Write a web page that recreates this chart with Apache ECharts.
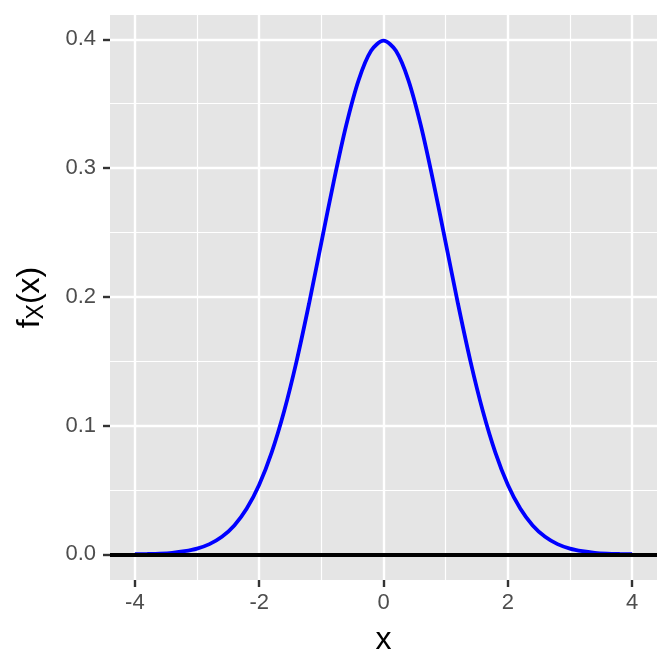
<!DOCTYPE html>
<html lang="en">
<head>
    <meta charset="UTF-8">
    <title>Normal density</title>
    <script src="https://cdn.jsdelivr.net/npm/echarts/dist/echarts.min.js"></script>
    <style>
        html, body { margin: 0; padding: 0; background: #fff; }
    </style>
</head>
<body>
    <div id="chart" style="width: 672px; height: 672px;"></div>
    <script>
        // values
        const xs = [-4.0, -3.8, -3.6, -3.4, -3.2, -3.0, -2.8, -2.6, -2.4, -2.2,
            -2.0, -1.8, -1.6, -1.4, -1.2, -1.0, -0.8, -0.6, -0.4, -0.2,
            0.0, 0.2, 0.4, 0.6, 0.8, 1.0, 1.2, 1.4, 1.6, 1.8,
            2.0, 2.2, 2.4, 2.6, 2.8, 3.0, 3.2, 3.4, 3.6, 3.8, 4.0];
        const density = [0.0001, 0.0003, 0.0006, 0.0012, 0.0024, 0.0044, 0.0079, 0.0136, 0.0224, 0.0355,
            0.0540, 0.0790, 0.1109, 0.1497, 0.1942, 0.2420, 0.2897, 0.3332, 0.3683, 0.3910,
            0.3989, 0.3910, 0.3683, 0.3332, 0.2897, 0.2420, 0.1942, 0.1497, 0.1109, 0.0790,
            0.0540, 0.0355, 0.0224, 0.0136, 0.0079, 0.0044, 0.0024, 0.0012, 0.0006, 0.0003, 0.0001];
        const hlineY = 0;

        const xTicks = [-4, -2, 0, 2, 4];
        const xMinor = [-3, -1, 1, 3];
        const yTicks = [0, 0.1, 0.2, 0.3, 0.4];
        const yMinor = [0.05, 0.15, 0.25, 0.35];

        const xMin = -4.4, xMax = 4.4;
        const yMin = -0.01995, yMax = 0.41885;

        const font = 'Liberation Sans, Arial, sans-serif';

        const chart = echarts.init(document.getElementById('chart'));

        const noLine = { show: false, onZero: false };
        const hidden = { show: false };
        const options = {
            animation: false,
            grid: {
                left: 110, right: 15, top: 15, bottom: 92,
                show: true, backgroundColor: '#e5e5e5', borderWidth: 0
            },
            xAxis: [
                {
                    type: 'value', min: xMin, max: xMax,
                    name: 'x', nameLocation: 'middle', nameGap: 44,
                    nameTextStyle: { fontFamily: font, fontSize: 32, color: '#000' },
                    axisLine: noLine,
                    axisTick: {
                        show: true, length: 7, customValues: xTicks,
                        lineStyle: { color: '#333', width: 2.4 }
                    },
                    axisLabel: {
                        customValues: xTicks, margin: 12,
                        fontFamily: font, fontSize: 22, color: '#4d4d4d'
                    },
                    splitLine: { show: true, lineStyle: { color: '#fff', width: 2.4 } }
                },
                {
                    type: 'value', min: xMin, max: xMax, position: 'bottom',
                    axisLine: noLine, axisLabel: hidden,
                    axisTick: { show: false, customValues: xMinor },
                    splitLine: { show: true, lineStyle: { color: '#fff', width: 1.2 } }
                }
            ],
            yAxis: [
                {
                    type: 'value', min: yMin, max: yMax,
                    name: 'f{sub|X}(x)', nameLocation: 'middle', nameGap: 62,
                    nameTextStyle: {
                        fontFamily: font, fontSize: 32, color: '#000',
                        rich: {
                            sub: { fontFamily: font, fontSize: 23, color: '#000', verticalAlign: 'bottom', padding: [12, 0, 0, 0] }
                        }
                    },
                    axisLine: noLine,
                    axisTick: {
                        show: true, length: 7, customValues: yTicks,
                        lineStyle: { color: '#333', width: 2.4 }
                    },
                    axisLabel: {
                        customValues: yTicks, margin: 14,
                        fontFamily: font, fontSize: 22, color: '#4d4d4d',
                        formatter: v => v.toFixed(1)
                    },
                    splitLine: { show: true, lineStyle: { color: '#fff', width: 2.4 } }
                },
                {
                    type: 'value', min: yMin, max: yMax, position: 'left',
                    axisLine: noLine, axisLabel: hidden,
                    axisTick: { show: false, customValues: yMinor },
                    splitLine: { show: true, lineStyle: { color: '#fff', width: 1.2 } }
                }
            ],
            series: [
                {
                    type: 'line',
                    data: xs.map((x, i) => [x, density[i]]),
                    smooth: 0.3,
                    showSymbol: false,
                    lineStyle: { color: '#0000ff', width: 3.8 },
                    z: 3
                },
                {
                    type: 'line',
                    data: [],
                    z: 4,
                    markLine: {
                        silent: true,
                        symbol: 'none',
                        label: hidden,
                        lineStyle: { color: '#000', width: 4, type: 'solid' },
                        data: [{ yAxis: hlineY }]
                    }
                }
            ]
        };

        chart.setOption(options);
    </script>
</body>
</html>
